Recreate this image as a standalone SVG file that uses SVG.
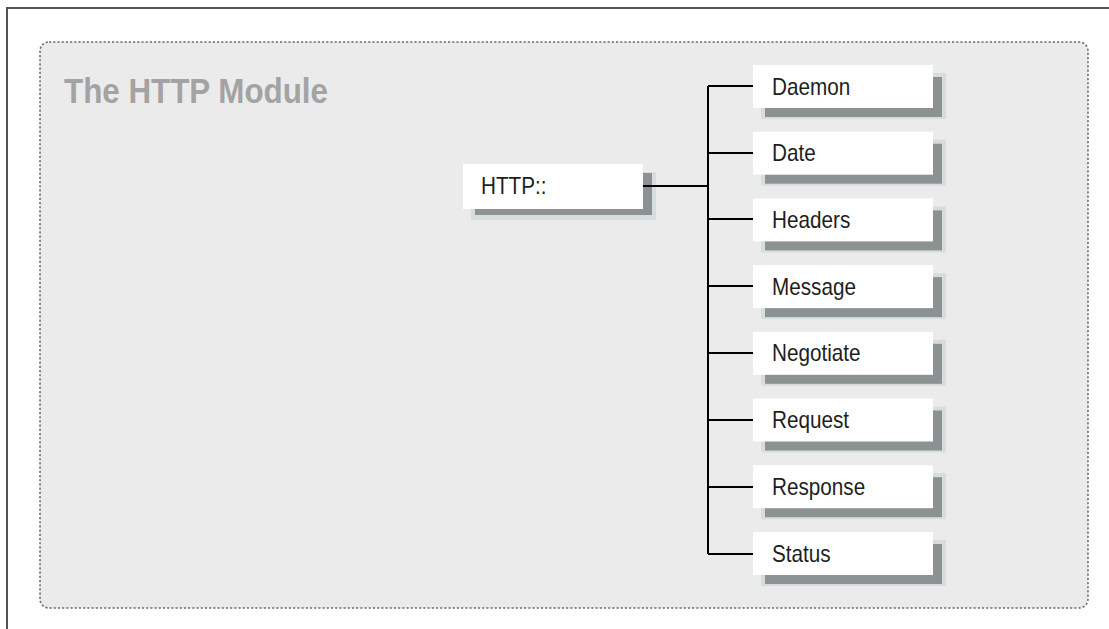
<svg xmlns="http://www.w3.org/2000/svg" width="1109" height="629" viewBox="0 0 1109 629">
<style>
.frame{stroke:#555;stroke-width:2;fill:none}
.panel{fill:#ebebeb;stroke:#6e6e6e;stroke-width:1.6;stroke-dasharray:2.2 2}
.title{font-family:"Liberation Sans",Arial,sans-serif;font-weight:bold;font-size:35px;fill:#a3a3a3}
.box{fill:#fff}
.halo{fill:#d7dddd}
.shadow{fill:#8c9191}
.label{font-family:"Liberation Sans",Arial,sans-serif;font-size:23px;fill:#1e1e1e}
.conn{stroke:#000;stroke-width:2;fill:none}
</style>
<defs>
<g id="child">
<rect class="halo" x="8" y="8" width="185" height="46"/>
<rect class="shadow" x="12" y="12" width="177" height="40"/>
<rect class="box" x="0" y="0" width="180" height="43"/>
</g>
</defs>
<path class="frame" d="M7 629 V8 H1109"/>
<rect class="panel" x="40" y="42" width="1048" height="566" rx="9"/>
<text class="title" x="64" y="103" textLength="264" lengthAdjust="spacingAndGlyphs">The HTTP Module</text>
<g id="http">
<rect class="halo" x="471" y="172" width="185" height="48"/>
<rect class="shadow" x="475" y="173" width="177" height="42"/>
<rect class="box" x="463" y="164" width="180" height="45"/>
<text class="label" transform="translate(481 194) scale(0.9 1)">HTTP::</text>
</g>
<g id="daemon" transform="translate(753 65)"><use href="#child"/><text class="label" transform="translate(19 29.5) scale(0.9 1)">Daemon</text></g>
<g id="date" transform="translate(753 131.7)"><use href="#child"/><text class="label" transform="translate(19 29.5) scale(0.9 1)">Date</text></g>
<g id="headers" transform="translate(753 198.4)"><use href="#child"/><text class="label" transform="translate(19 29.5) scale(0.9 1)">Headers</text></g>
<g id="message" transform="translate(753 265.1)"><use href="#child"/><text class="label" transform="translate(19 29.5) scale(0.9 1)">Message</text></g>
<g id="negotiate" transform="translate(753 331.8)"><use href="#child"/><text class="label" transform="translate(19 29.5) scale(0.9 1)">Negotiate</text></g>
<g id="request" transform="translate(753 398.5)"><use href="#child"/><text class="label" transform="translate(19 29.5) scale(0.9 1)">Request</text></g>
<g id="response" transform="translate(753 465.2)"><use href="#child"/><text class="label" transform="translate(19 29.5) scale(0.9 1)">Response</text></g>
<g id="status" transform="translate(753 532)"><use href="#child"/><text class="label" transform="translate(19 29.5) scale(0.9 1)">Status</text></g>
<g id="connectors">
<path class="conn" d="M643 186 H708"/>
<path class="conn" d="M708 86 V554"/>
<path class="conn" d="M708 86 H753 M708 153 H753 M708 219 H753 M708 286 H753 M708 353 H753 M708 420 H753 M708 487 H753 M708 554 H753"/>
</g>
</svg>
